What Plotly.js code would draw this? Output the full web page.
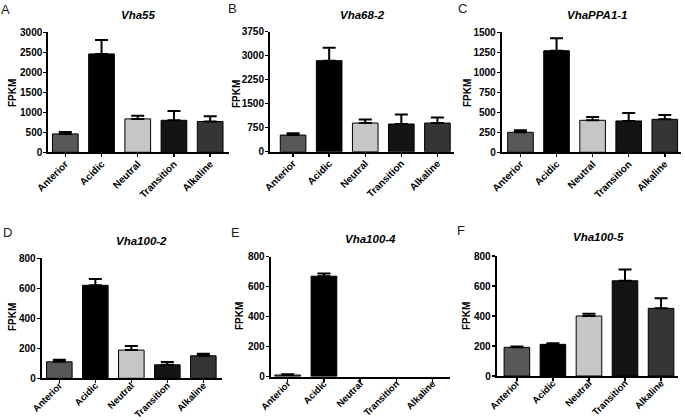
<!DOCTYPE html>
<html>
<head>
<meta charset="utf-8">
<script src="https://cdn.plot.ly/plotly-3.0.1.min.js"></script>
<style>html,body{margin:0;padding:0;background:#fff;}#chart{width:685px;height:420px;}</style>
</head>
<body>
<div id="chart"></div>
<script>
const categories = ['Anterior', 'Acidic', 'Neutral', 'Transition', 'Alkaline'];
const barColors = ['#585858', '#000000', '#c6c6c6', '#141414', '#353535'];

const panelLetters = ['A', 'B', 'C', 'D', 'E', 'F'];
const geneNames = ['Vha55', 'Vha68-2', 'VhaPPA1-1', 'Vha100-2', 'Vha100-4', 'Vha100-5'];

const vha55 = [460, 2460, 835, 800, 770];
const vha55Err = [45, 350, 80, 230, 130];
const vha68_2 = [520, 2845, 895, 865, 895];
const vha68_2Err = [60, 405, 115, 300, 170];
const vhaPPA1_1 = [250, 1270, 400, 392, 412];
const vhaPPA1_1Err = [25, 155, 42, 100, 55];
const vha100_2 = [110, 620, 188, 90, 150];
const vha100_2Err = [13, 42, 27, 18, 13];
const vha100_4 = [10, 670, 0, 0, 0];
const vha100_4Err = [5, 18, null, null, null];
const vha100_5 = [191, 211, 400, 635, 451];
const vha100_5Err = [6, 8, 15, 75, 67];

const yMax = [3000, 3750, 1500, 800, 800, 800];
const yStep = [500, 750, 250, 200, 200, 200];

const seriesValues = [vha55, vha68_2, vhaPPA1_1, vha100_2, vha100_4, vha100_5];
const seriesErrors = [vha55Err, vha68_2Err, vhaPPA1_1Err, vha100_2Err, vha100_4Err, vha100_5Err];

// layout geometry (pixels in a 685x420 page)
const W = 685, H = 420;
const plotBoxes = [
  {x0: 48.3, x1: 229, y0: 32.3, y1: 152.3, xr: [-0.47, 4.52], lso: -3, fs: 10},
  {x0: 270, x1: 454, y0: 31.7, y1: 151.7, xr: [-0.64, 4.46], lso: -3, fs: 10},
  {x0: 501.7, x1: 681, y0: 32.3, y1: 152.3, xr: [-0.52, 4.45], lso: -3, fs: 10},
  {x0: 41.7, x1: 221.7, y0: 258.3, y1: 378.3, xr: [-0.49, 4.51], lso: -7, fs: 9.5},
  {x0: 270.7, x1: 450, y0: 256.7, y1: 376.5, xr: [-0.47, 4.48], lso: -7, fs: 9.5},
  {x0: 496.7, x1: 678, y0: 256, y1: 376, xr: [-0.56, 4.47], lso: -7, fs: 9.5}
];
const letterPos = [[5, 9], [232, 8], [462, 8], [8, 232], [235, 232], [461, 230]];
const titlePos = [[138, 15], [362, 15], [597, 15], [141, 241], [370, 239], [598, 237]];
const fpkmPos = [[12, 93], [237, 94], [467, 93], [12, 317], [239, 316], [466, 316]];

const FONT = 'Liberation Sans, Arial, sans-serif';
const traces = [];
const layout = {
  width: W, height: H,
  margin: {l: 0, r: 0, t: 0, b: 0},
  paper_bgcolor: '#ffffff',
  plot_bgcolor: '#ffffff',
  showlegend: false,
  bargap: 0.29,
  font: {family: FONT, color: '#000'},
  annotations: []
};

for (let i = 0; i < 6; i++) {
  const s = i === 0 ? '' : String(i + 1);
  const b = plotBoxes[i];
  const vals = seriesValues[i];
  const errs = seriesErrors[i].map(e => (e === null ? NaN : e));
  traces.push({
    type: 'bar',
    x: categories,
    y: vals,
    xaxis: 'x' + s,
    yaxis: 'y' + s,
    marker: {color: barColors, line: {color: '#000', width: vals.map(v => (v > 0 ? 1 : 0))}},
    error_y: {
      type: 'data', symmetric: false,
      array: errs,
      arrayminus: errs.map(e => (isNaN(e) ? NaN : 0)),
      color: '#000', thickness: 2, width: 6.5
    },
    hoverinfo: 'x+y'
  });
  layout['xaxis' + s] = {
    domain: [b.x0 / W, b.x1 / W],
    anchor: 'y' + s,
    type: 'category',
    range: b.xr,
    showline: true, linecolor: '#000', linewidth: 2,
    ticks: 'outside', ticklen: 3, tickwidth: 1.5, tickcolor: '#000',
    tickangle: -45,
    ticklabelstandoff: b.lso,
    tickfont: {family: FONT, size: b.fs, color: '#000', weight: 700},
    showgrid: false, zeroline: false, automargin: false, fixedrange: true
  };
  layout['yaxis' + s] = {
    domain: [1 - b.y1 / H, 1 - b.y0 / H],
    anchor: 'x' + s,
    range: [0, yMax[i]],
    tick0: 0, dtick: yStep[i],
    showline: true, linecolor: '#000', linewidth: 2,
    ticks: 'outside', ticklen: 3, tickwidth: 1.5, tickcolor: '#000',
    ticklabelstandoff: -1,
    tickfont: {family: FONT, size: 10, color: '#000', weight: 700},
    showgrid: false, zeroline: false, automargin: false, fixedrange: true
  };
  layout.annotations.push({
    text: panelLetters[i], xref: 'paper', yref: 'paper',
    x: letterPos[i][0] / W, y: 1 - letterPos[i][1] / H,
    xanchor: 'center', yanchor: 'middle', showarrow: false,
    font: {family: FONT, size: 13, color: '#1a1a1a'}
  });
  layout.annotations.push({
    text: '<b><i>' + geneNames[i] + '</i></b>', xref: 'paper', yref: 'paper',
    x: titlePos[i][0] / W, y: 1 - titlePos[i][1] / H,
    xanchor: 'center', yanchor: 'middle', showarrow: false,
    font: {family: FONT, size: 11.5, color: '#000'}
  });
  layout.annotations.push({
    text: '<b>FPKM</b>', xref: 'paper', yref: 'paper',
    x: fpkmPos[i][0] / W, y: 1 - fpkmPos[i][1] / H,
    xanchor: 'center', yanchor: 'middle', showarrow: false, textangle: -90,
    font: {family: FONT, size: 10, color: '#000'}
  });
}

Plotly.newPlot('chart', traces, layout, {staticPlot: true, displayModeBar: false});
</script>
</body>
</html>
